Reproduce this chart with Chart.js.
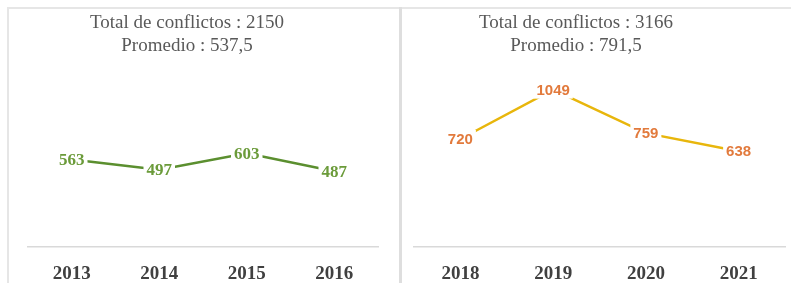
<!DOCTYPE html>
<html>
<head>
<meta charset="utf-8">
<script src="https://cdn.jsdelivr.net/npm/chart.js@4"></script>
<style>
  html, body { margin: 0; padding: 0; background: #ffffff; }
  body { width: 791px; height: 283px; position: relative; overflow: hidden; }
  .frame { position: absolute; left: 7px; top: 7px; width: 784px; height: 276px;
           border-left: 2px solid #e6e6e6; border-top: 2px solid #e6e6e6; box-sizing: border-box; }
  .divider { position: absolute; left: 399px; top: 7px; width: 3px; height: 276px; background: #dedede; }
  .panel { position: absolute; top: 9px; height: 274px; }
  .panel canvas { position: absolute; left: 0; top: 0; }
  .title { position: absolute; font-family: "Liberation Serif", "DejaVu Serif", serif; font-size: 19px;
           color: #595959; text-align: center; line-height: 23px; white-space: nowrap; }
</style>
</head>
<body>
<div class="frame"></div>
<div class="divider"></div>

<div class="panel" id="p1" style="left:9px;width:390px;">
  <canvas id="c1" width="390" height="274"></canvas>
  <div class="title" style="left:68px;width:220px;top:1px;">Total de conflictos : 2150<br>Promedio : 537,5</div>
</div>
<div class="panel" id="p2" style="left:402px;width:389px;">
  <canvas id="c2" width="389" height="274"></canvas>
  <div class="title" style="left:64px;width:220px;top:1px;">Total de conflictos : 3166<br>Promedio : 791,5</div>
</div>

<script>
// ---- data ----
const yearsA = ["2013", "2014", "2015", "2016"];
const conflictsA = [563, 497, 603, 487];
const yearsB = ["2018", "2019", "2020", "2021"];
const conflictsB = [720, 1049, 759, 638];

const valueLabels = {
  id: 'valueLabels',
  afterDatasetsDraw(chart, args, opts) {
    const ctx = chart.ctx;
    const meta = chart.getDatasetMeta(0);
    const data = chart.data.datasets[0].data;
    ctx.save();
    ctx.font = opts.font;
    ctx.textAlign = 'center';
    ctx.textBaseline = 'middle';
    meta.data.forEach((pt, i) => {
      const txt = String(data[i]);
      const w = ctx.measureText(txt).width;
      ctx.fillStyle = '#ffffff';
      ctx.fillRect(pt.x - w / 2 - 3, pt.y - 9, w + 6, 18);
      ctx.fillStyle = opts.color;
      ctx.fillText(txt, pt.x, pt.y + (opts.dy || 0));
    });
    ctx.restore();
  }
};

function makeChart(id, labels, values, lineColor, labelColor, labelFont, pad, yMax) {
  return new Chart(document.getElementById(id), {
    type: 'line',
    data: {
      labels: labels,
      datasets: [{
        data: values,
        borderColor: lineColor,
        borderWidth: 2.5,
        pointRadius: 0,
        tension: 0,
        fill: false
      }]
    },
    options: {
      responsive: false,
      animation: false,
      events: [],
      layout: { padding: pad },
      plugins: {
        legend: { display: false },
        tooltip: { enabled: false },
        title: { display: false },
        valueLabels: { font: labelFont, color: labelColor, dy: 1 }
      },
      scales: {
        x: {
          offset: true,
          grid: { display: false, drawTicks: false },
          border: { display: true, color: '#d9d9d9', width: 1.5 },
          ticks: {
            padding: 16,
            color: '#404040',
            font: { family: '"Liberation Serif", "DejaVu Serif", serif', size: 19, weight: 'bold' }
          },
          afterFit(scale) { scale.height = 36; }
        },
        y: { display: false, min: 0, max: yMax }
      }
    },
    plugins: [valueLabels]
  });
}

makeChart('c1', yearsA, conflictsA, '#5b8f2f', '#6b9b3a',
  'bold 17px "Liberation Serif", "DejaVu Serif", serif',
  { left: 19, right: 21, top: 28, bottom: 0 }, 1350);
makeChart('c2', yearsB, conflictsB, '#e8b60c', '#e27a3c',
  'bold 15px "Liberation Sans", "DejaVu Sans", sans-serif',
  { left: 12, right: 6, top: 28, bottom: 0 }, 1400);
</script>
</body>
</html>
